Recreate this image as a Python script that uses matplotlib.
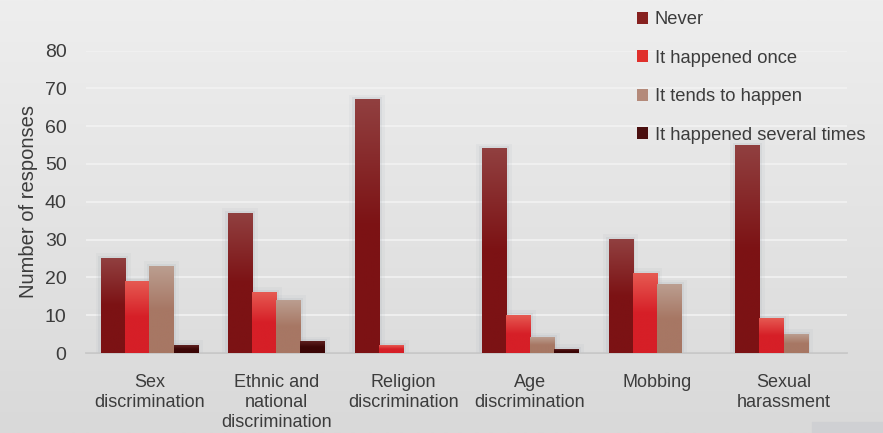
import numpy as np
import matplotlib.pyplot as plt
from matplotlib.patches import Rectangle, Patch
from matplotlib.colors import LinearSegmentedColormap

categories = ["Sex\ndiscrimination", "Ethnic and\nnational\ndiscrimination",
              "Religion\ndiscrimination", "Age\ndiscrimination", "Mobbing",
              "Sexual\nharassment"]
series_names = ["Never", "It happened once", "It tends to happen",
                "It happened several times"]
never = [25, 37, 67, 54, 30, 55]
happened_once = [19, 16, 2, 10, 21, 9]
tends_to_happen = [23, 14, 0, 4, 18, 5]
several_times = [2, 3, 0, 1, 0, 0]
y_ticks = [0, 10, 20, 30, 40, 50, 60, 70, 80]

series = [never, happened_once, tends_to_happen, several_times]
# (top colour, bottom colour) for each series' vertical gradient
gradients = [("#914040", "#7c1214"),
             ("#e65a52", "#d61f27"),
             ("#bb9e90", "#a77764"),
             ("#5e2020", "#3c0606")]
solid = ["#86201f", "#e0302c", "#b48a7a", "#4a0f0f"]

W, H = 883, 433
fig = plt.figure(figsize=(W / 100, H / 100), dpi=100)

# soft light-grey backdrop
bg = fig.add_axes([0, 0, 1, 1], zorder=-10)
grad = np.linspace(0, 1, 256).reshape(-1, 1)
bg_cmap = LinearSegmentedColormap.from_list("bg", ["#eeeeee", "#d9d9d9"])
bg.imshow(grad, aspect="auto", cmap=bg_cmap, extent=[0, 1, 0, 1],
          origin="upper", interpolation="bilinear")
bg.set_axis_off()
fig.patches.append(Rectangle((812 / W, 0), (W - 812) / W, 11 / H,
                             transform=fig.transFigure, color="#cfd0d3",
                             zorder=-5))

left, right, bottom, top = 86, 847, 353, 50.5
ax = fig.add_axes([left / W, (H - bottom) / H, (right - left) / W,
                   (bottom - top) / H])
ax.patch.set_alpha(0)

n = len(categories)
w = 0.19
x = np.arange(n)
ygrad = np.linspace(0, 1, 256).reshape(-1, 1)

for j, vals in enumerate(series):
    cmap = LinearSegmentedColormap.from_list(
        f"s{j}", [gradients[j][0], gradients[j][1], gradients[j][1]])
    for i, v in enumerate(vals):
        if v <= 0:
            continue
        x0 = x[i] + (j - 2) * w
        # soft shadow around the bar
        for pad, a in [(0.045, 0.10), (0.022, 0.18)]:
            ax.add_patch(Rectangle((x0 - pad, 0), w + 2 * pad, v + pad * 30,
                                   color="#a9b0b8", alpha=a, lw=0, zorder=1))
        ax.bar(x0, v, width=w, align="edge", color=solid[j], lw=0, zorder=2)
        ax.imshow(ygrad, cmap=cmap, aspect="auto", origin="upper",
                  extent=[x0, x0 + w, 0, v], interpolation="bilinear",
                  zorder=3)

ax.set_xlim(-0.5, n - 0.5)
ax.set_ylim(0, 80)
ax.set_yticks(y_ticks)
ax.set_xticks(x)
ax.set_xticklabels(categories, fontsize=13, color="#3c3c3c",
                   family="Liberation Sans", linespacing=1.25)
ax.tick_params(axis="x", length=0, pad=15)
ax.tick_params(axis="y", length=0, pad=14, labelsize=14,
               labelcolor="#3c3c3c")
for lab in ax.get_yticklabels():
    lab.set_family("Liberation Sans")
ax.grid(axis="y", color="#f2f2f2", lw=1.2, zorder=0)
ax.set_axisbelow(True)
for s in ["top", "right", "left"]:
    ax.spines[s].set_visible(False)
ax.spines["bottom"].set_color("#c4c4c4")
ax.spines["bottom"].set_linewidth(1.2)
ax.set_ylabel("Number of responses", fontsize=14.5, color="#3c3c3c",
              family="Liberation Sans", labelpad=4.5)

handles = [Patch(facecolor=c, edgecolor="none") for c in solid]
fig.legend(handles, series_names, loc="upper left",
           bbox_to_anchor=(630 / W, 1 - 4 / H), frameon=False,
           prop={"family": "Liberation Sans", "size": 13.2},
           labelcolor="#3c3c3c", handlelength=0.6, handleheight=0.6,
           handletextpad=0.35, labelspacing=1.17, borderaxespad=0)

fig.savefig("out.png", dpi=100)
